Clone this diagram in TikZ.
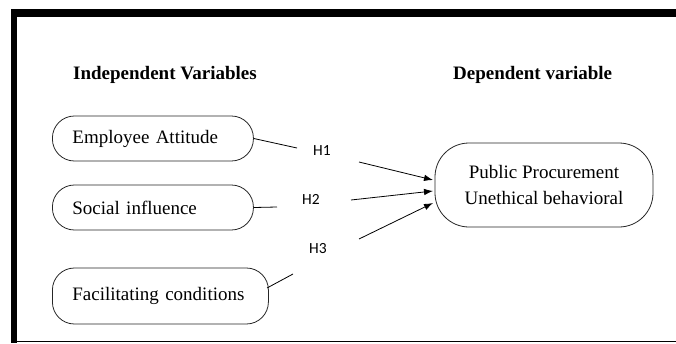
\documentclass[tikz,border=0pt]{standalone}
\usepackage{fontspec}
\setmainfont{Liberation Serif}
\newfontfamily\hfont{Carlito}
\usetikzlibrary{arrows.meta}
\begin{document}
\begin{tikzpicture}[x=1pt,y=-1pt,
  varbox/.style={draw=black!85, line width=0.8pt, rounded corners=22pt, minimum height=45pt, inner xsep=20pt, align=left, anchor=west, font=\fontsize{19}{22}\selectfont},
  depbox/.style={draw=black!85, line width=0.8pt, rounded corners=34pt, minimum width=218pt, minimum height=84pt, align=center, font=\fontsize{19}{26}\selectfont},
  hlabel/.style={font=\hfont\fontsize{15.5}{17}\selectfont, inner sep=0pt},
  heading/.style={font=\bfseries\fontsize{19}{22}\selectfont, inner sep=0pt, anchor=west},
  conn/.style={line width=0.8pt},
  arr/.style={line width=0.8pt, -{Latex[length=9pt,width=6.5pt]}}]
\useasboundingbox (0,0) rectangle (676,343);
% frame
\fill (11,9) rectangle (676,17);
\fill (11,9) rectangle (17,343);
\draw[line width=1pt] (11,341.5) -- (676,341.5);
% headings
\node[heading] (hi) at (73,75) {Independent Variables};
\node[heading] (hd) at (453,75) {Dependent variable};
% variable boxes
\node[varbox, text width=161pt] (ea) at (52,138.5) {Employee Attitude};
\node[varbox, text width=161pt] (si) at (52,207.5) {Social influence};
\node[varbox, text width=176pt, minimum height=56pt] (fc) at (52,296) {Facilitating conditions};
\node[depbox] (dep) at (544,185) {Public Procurement\\Unethical behavioral};
% labels
\node[hlabel] (h1) at (322,151) {H1};
\node[hlabel] (h2) at (311,199) {H2};
\node[hlabel] (h3) at (318,249) {H3};
% coordinates
\coordinate (e1) at (297,148);
\coordinate (e2) at (277,207);
\coordinate (f0) at (267,288);
\coordinate (e3) at (293,274);
\coordinate (a1) at (359,162);
\coordinate (a2) at (351,200);
\coordinate (a3) at (359,239);
\coordinate (t1) at (433,180);
\coordinate (t2) at (433,191);
\coordinate (t3) at (433,203);
% connectors
\draw[conn] (ea.east) -- (e1);
\draw[conn] (si.east) -- (e2);
\draw[conn] (f0) -- (e3);
\draw[arr] (a1) -- (t1);
\draw[arr] (a2) -- (t2);
\draw[arr] (a3) -- (t3);
\end{tikzpicture}
\end{document}
